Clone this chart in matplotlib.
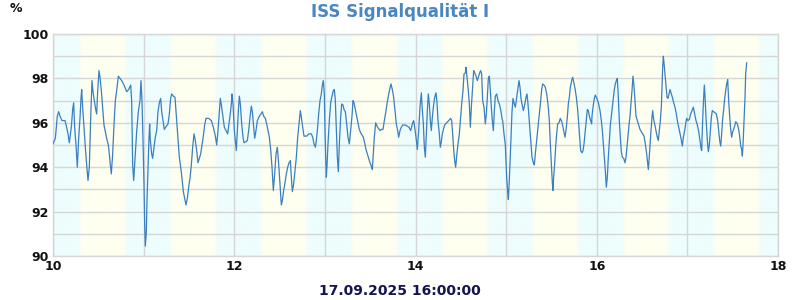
import numpy as np
import matplotlib
matplotlib.use("Agg")
import matplotlib.pyplot as plt
from matplotlib.colors import to_rgb

# ---- data: minutes after 10:00 and signal quality in % ----
min_10 = [0.0, 1.54, 2.87, 3.75, 4.63, 5.96, 7.94, 9.04, 9.93, 10.81, 12.13, 13.02, 13.68, 14.34, 15.22, 16.11,
          16.99, 17.87, 18.54, 18.98, 19.64, 20.52, 21.40, 22.29, 23.17, 24.05, 24.94, 25.82, 26.48, 27.36, 28.25,
          28.91, 29.57, 30.45, 31.12, 32.00, 32.88, 33.76, 34.65, 35.53, 36.63, 37.29, 37.96, 38.62, 39.50, 40.38,
          41.27, 42.15, 43.25, 44.36, 45.46, 47.01, 48.77, 50.10, 51.42, 52.08, 52.74, 53.41, 54.29, 55.39, 56.50, 57.60]
pct_10 = [95.05, 95.3, 96.3, 96.5, 96.3, 96.1, 96.1, 95.8, 95.5, 95.1, 95.8, 96.6, 96.9, 95.8, 95.0, 94.0,
          95.3, 96.2, 97.1, 97.5, 96.7, 95.8, 94.9, 94.1, 93.4, 94.0, 96.2, 97.9, 97.4, 97.0, 96.6,
          96.4, 97.4, 98.35, 98.05, 97.45, 96.7, 95.9, 95.6, 95.3, 95.0, 94.6, 94.1, 93.7, 94.6, 95.9,
          97.0, 97.45, 98.1, 98.0, 97.9, 97.7, 97.4, 97.5, 97.7, 97.0, 94.1, 93.4, 94.4, 95.6, 96.5, 97.0]

min_11 = [58.26, 58.92, 59.59, 60.25, 60.69, 61.13, 61.79, 62.23, 62.90, 63.56, 64.00, 64.44, 65.32, 65.99, 66.87,
          67.75, 68.64, 69.52, 70.40, 71.28, 71.95, 72.83, 73.71, 74.59, 76.14, 77.02, 77.90, 78.57, 79.67, 80.77,
          81.88, 82.76, 83.64, 84.53, 85.41, 86.29, 87.17, 88.06, 88.94, 89.82, 90.71, 91.59, 92.47, 93.35, 94.24,
          95.12, 96.00, 96.88, 97.77, 98.65, 99.53, 100.42, 101.30, 103.06, 104.83, 106.15, 107.48, 108.36, 109.24,
          110.13, 110.79, 111.67, 112.55, 113.44, 114.54, 115.64, 116.75, 117.63, 118.29]
pct_11 = [97.9, 97.0, 95.2, 93.2, 91.4, 90.45, 91.1, 92.5, 94.0, 95.35, 95.95, 95.2, 94.6, 94.4, 94.9,
          95.35, 95.65, 96.5, 96.9, 97.1, 96.5, 96.1, 95.7, 95.8, 95.95, 96.4, 97.1, 97.3, 97.2, 97.15,
          96.1, 95.2, 94.45, 94.0, 93.5, 92.9, 92.6, 92.3, 92.6, 93.1, 93.5, 94.1, 94.9, 95.5, 95.2,
          94.75, 94.2, 94.4, 94.6, 95.0, 95.4, 95.9, 96.2, 96.2, 96.1, 95.8, 95.4, 95.0, 95.65,
          96.5, 97.1, 96.7, 96.25, 95.8, 95.65, 95.5, 96.1, 96.55, 97.0]

min_12 = [118.51, 119.18, 120.06, 120.72, 121.38, 122.05, 122.71, 123.37, 124.03, 124.91, 125.80, 126.46, 127.56,
          128.67, 129.55, 130.43, 131.31, 131.98, 132.86, 133.52, 134.40, 135.29, 136.61, 137.71, 138.60, 139.48,
          140.58, 141.47, 142.35, 143.23, 144.12, 145.00, 145.88, 146.76, 147.65, 148.53, 149.41, 150.30, 151.18,
          151.84, 152.72, 153.61, 154.49, 155.37, 156.25, 157.14, 157.80, 158.46, 159.34, 160.23, 161.11, 161.99,
          162.87, 163.76, 164.42, 165.30, 166.19, 167.95, 169.28, 171.04, 171.92, 172.81, 173.69, 174.35, 175.01,
          175.90, 176.78]
pct_12 = [97.3, 96.85, 95.65, 95.2, 94.75, 95.65, 96.55, 97.2, 96.85, 95.95, 95.35, 95.1, 95.15,
          95.2, 95.65, 96.25, 96.75, 96.5, 95.8, 95.3, 95.65, 96.1, 96.3, 96.4, 96.5, 96.3,
          96.2, 95.95, 95.65, 95.35, 94.8, 94.0, 92.95, 93.7, 94.6, 94.9, 94.15, 93.25, 92.3,
          92.5, 92.95, 93.3, 93.7, 94.0, 94.2, 94.3, 93.55, 92.9, 93.25, 93.85, 94.45, 95.35,
          95.95, 96.55, 96.25, 95.8, 95.4, 95.4, 95.5, 95.5, 95.35, 95.05, 94.9, 95.2, 95.65,
          96.4, 97.0]

min_13 = [177.65, 178.31, 178.98, 179.64, 180.08, 180.52, 180.96, 181.40, 182.07, 182.95, 183.83, 184.72, 185.60,
          186.26, 186.92, 187.58, 188.25, 188.91, 189.57, 190.45, 191.12, 192.00, 192.66, 193.54, 194.43, 195.31,
          196.19, 197.07, 197.96, 198.62, 199.28, 200.16, 201.05, 201.93, 202.81, 203.70, 204.58, 205.46, 206.34,
          207.23, 208.11, 208.99, 209.88, 210.76, 211.42, 212.08, 212.74, 213.63, 214.51, 215.39, 216.50, 217.38,
          218.48, 219.37, 220.25, 221.13, 222.01, 222.90, 223.78, 224.66, 225.54, 226.43, 227.31, 228.19, 228.86,
          229.74, 230.62, 231.50, 233.05, 234.59, 235.70, 236.80]
pct_13 = [97.3, 97.7, 97.9, 97.3, 95.65, 94.45, 93.55, 94.05, 95.05, 96.1, 96.9, 97.2, 97.45,
          97.5, 97.0, 95.8, 94.45, 93.8, 95.05, 96.25, 96.85, 96.8, 96.6, 96.5, 95.95, 95.35,
          95.05, 95.65, 96.3, 97.0, 96.9, 96.6, 96.3, 96.0, 95.7, 95.55, 95.45, 95.35, 95.1,
          94.8, 94.6, 94.4, 94.2, 94.05, 93.9, 94.6, 95.35, 96.0, 95.85, 95.75, 95.65, 95.7,
          95.7, 96.1, 96.45, 96.85, 97.2, 97.5, 97.75, 97.5, 97.15, 96.55, 95.95, 95.65, 95.35,
          95.65, 95.8, 95.9, 95.9, 95.85, 95.8, 95.65]

min_14 = [238.13, 238.79, 239.45, 240.33, 241.22, 242.10, 242.98, 243.86, 244.53, 245.19, 245.85, 246.51, 247.17,
          247.84, 248.50, 249.16, 249.82, 250.48, 251.15, 251.81, 252.69, 253.57, 254.24, 254.90, 255.78, 256.44,
          257.11, 257.77, 258.43, 259.31, 260.64, 261.96, 263.29, 263.95, 264.61, 265.27, 265.93, 266.60, 267.26,
          268.14, 269.02, 269.69, 270.57, 271.45, 272.11, 273.00, 273.44, 274.10, 274.98, 275.64, 276.31, 276.97,
          277.85, 278.51, 279.18, 280.06, 280.94, 281.82, 282.49, 283.15, 283.81, 284.47, 285.36, 286.24, 286.90,
          287.56, 288.22, 288.89, 289.55, 290.21, 290.87, 291.54, 292.20, 292.86, 293.74, 294.62, 295.51, 296.39,
          297.27]
pct_14 = [96.0, 96.1, 95.8, 95.35, 94.8, 95.65, 96.7, 97.35, 96.55, 95.95, 94.9, 94.45, 95.5,
          96.55, 97.3, 96.85, 96.1, 95.65, 96.25, 96.7, 97.15, 97.35, 96.9, 96.1, 95.5, 94.9,
          95.15, 95.5, 95.7, 95.9, 96.0, 96.1, 96.2, 96.1, 95.5, 94.8, 94.3, 94.0, 94.5,
          95.05, 95.5, 96.1, 96.85, 97.45, 98.2, 98.25, 98.5, 98.05, 97.45, 96.85, 95.8, 96.7,
          97.6, 98.35, 98.25, 98.1, 97.9, 98.1, 98.25, 98.35, 98.2, 97.0, 96.7, 95.95, 96.4,
          97.15, 98.0, 98.1, 97.45, 96.7, 96.1, 95.65, 96.55, 97.2, 97.3, 97.0, 96.85, 96.6,
          96.2]

min_15 = [297.71, 298.59, 299.47, 299.91, 300.35, 301.02, 301.46, 301.90, 302.56, 303.22, 303.89, 304.55, 305.21,
          306.09, 306.98, 307.64, 308.52, 309.18, 309.84, 310.51, 311.39, 312.27, 313.15, 313.82, 314.48, 315.14,
          315.80, 316.47, 317.13, 318.01, 318.67, 319.33, 320.22, 321.10, 321.98, 322.87, 323.53, 324.19, 325.07,
          325.96, 326.84, 327.72, 328.60, 329.27, 329.93, 330.59, 331.03, 331.47, 332.13, 332.80, 333.46, 334.12,
          335.00, 335.89, 336.55, 337.21, 338.09, 338.98, 339.64, 340.52, 341.18, 341.85, 342.51, 343.39, 344.05,
          344.71, 345.60, 346.48, 347.36, 348.03, 348.69, 349.35, 350.23, 350.90, 351.56, 352.44, 353.10, 353.76,
          354.43, 355.09, 355.97, 356.63]
pct_15 = [96.1, 95.5, 95.0, 94.3, 93.55, 92.9, 92.55, 93.1, 94.15, 95.35, 96.5, 97.1, 96.9,
          96.7, 97.15, 97.45, 97.9, 97.6, 97.1, 96.85, 96.55, 96.8, 97.15, 97.3, 96.85, 96.25,
          95.65, 95.05, 94.45, 94.2, 94.1, 94.6, 95.2, 95.8, 96.4, 97.0, 97.5, 97.75, 97.7,
          97.6, 97.3, 96.85, 96.1, 95.05, 94.15, 93.3, 92.95, 93.55, 94.15, 94.9, 95.5, 95.95,
          96.0, 96.2, 96.1, 95.95, 95.65, 95.35, 95.65, 96.25, 96.85, 97.15, 97.6, 97.9, 98.05,
          97.85, 97.55, 97.15, 96.6, 95.95, 95.35, 94.75, 94.65, 94.75, 95.05, 95.65, 96.1, 96.6,
          96.55, 96.3, 96.1, 95.95]

min_16 = [356.85, 357.52, 358.40, 359.06, 359.72, 360.61, 361.27, 362.15, 363.03, 363.70, 364.36, 365.02, 365.68,
          366.34, 367.01, 367.67, 368.33, 368.99, 369.65, 370.32, 370.98, 371.64, 372.30, 372.97, 373.63, 374.29,
          374.95, 375.61, 376.28, 376.94, 377.82, 378.70, 379.37, 380.03, 380.69, 381.35, 382.01, 382.68, 383.34,
          384.00, 384.66, 385.32, 385.99, 386.87, 387.75, 388.64, 389.52, 390.40, 391.28, 392.17, 393.05, 393.71,
          394.15, 394.59, 395.26, 395.92, 396.58, 397.02, 397.46, 398.13, 398.79, 399.45, 400.11, 400.77, 401.44,
          402.10, 402.76, 403.20, 403.64, 404.08, 404.53, 405.19, 405.85, 406.51, 407.17, 407.84, 408.50, 409.16,
          410.04, 410.93, 411.81, 412.69, 413.35, 414.24, 415.12, 415.78]
pct_16 = [96.3, 96.7, 97.1, 97.25, 97.15, 97.0, 96.85, 96.55, 96.1, 95.65, 95.05, 94.45, 93.85,
          93.1, 93.55, 94.45, 95.2, 95.9, 96.3, 96.7, 97.15, 97.5, 97.75, 97.9, 98.0, 97.15,
          96.1, 95.35, 94.7, 94.45, 94.4, 94.2, 94.45, 94.9, 95.4, 95.9, 96.3, 96.85, 97.45,
          98.1, 97.65, 97.0, 96.3, 96.1, 95.9, 95.7, 95.6, 95.5, 95.4, 95.05, 94.6, 94.15,
          93.9, 94.3, 95.0, 95.65, 96.25, 96.55, 96.25, 96.0, 95.8, 95.55, 95.35, 95.2, 95.65,
          96.1, 96.7, 97.6, 98.5, 99.0, 98.7, 98.2, 97.75, 97.15, 97.1, 97.3, 97.5, 97.35,
          97.15, 96.9, 96.7, 96.4, 96.1, 95.8, 95.5, 95.3]

min_17 = [416.66, 417.33, 418.21, 418.87, 419.53, 420.42, 421.30, 422.18, 423.07, 423.95, 424.83, 425.71, 426.60,
          427.48, 428.36, 429.02, 429.47, 430.13, 430.79, 431.23, 431.67, 432.33, 433.22, 433.88, 434.54, 435.20,
          435.87, 436.53, 437.41, 438.29, 439.18, 440.06, 440.72, 441.38, 442.05, 442.71, 443.37, 444.03, 444.69,
          445.36, 446.02, 446.68, 447.34, 448.00, 448.67, 449.33, 449.99, 450.65, 451.31, 451.98, 452.64, 453.30,
          453.96, 454.63, 455.29, 455.95, 456.39, 456.83, 457.50, 458.16, 458.60, 459.26]
pct_17 = [94.95, 95.35, 95.65, 95.95, 96.2, 96.1, 96.15, 96.4, 96.55, 96.7, 96.4, 96.1, 95.9,
          95.6, 95.2, 94.85, 94.75, 96.15, 97.15, 97.7, 97.2, 96.25, 95.2, 94.7, 95.0, 95.65,
          96.25, 96.55, 96.5, 96.45, 96.4, 96.1, 95.65, 95.2, 94.95, 95.5, 96.2, 96.6, 97.1,
          97.45, 97.75, 97.95, 97.0, 96.3, 95.7, 95.35, 95.6, 95.7, 95.85, 96.05, 96.0, 95.9,
          95.7, 95.4, 94.95, 94.8, 94.5, 95.0, 96.1, 97.15, 98.2, 98.7]

x_ticks = [10, 12, 14, 16, 18]
y_ticks = [90, 92, 94, 96, 98, 100]
title = "ISS Signalqualität I"
unit_label = "%"
footer = "17.09.2025 16:00:00"
band_start_h = 10.3   # first day/night band edge (hours)
band_len_h = 0.5

minutes = np.concatenate([min_10, min_11, min_12, min_13, min_14, min_15, min_16, min_17])
quality = np.concatenate([pct_10, pct_11, pct_12, pct_13, pct_14, pct_15, pct_16, pct_17])
assert len(minutes) == len(quality), (len(minutes), len(quality))
hours = 10 + minutes / 60.0

# ---- figure ----
fig = plt.figure(figsize=(8, 3), dpi=100)
ax = fig.add_axes([53 / 800, 1 - 256 / 300, (778 - 53) / 800, (256 - 34) / 300])

cyan = np.array(to_rgb("#eefdfd"))
yellow = np.array(to_rgb("#fefff0"))
# background bands with soft edges
xs = np.linspace(10, 18, 1601)
k = np.floor((xs - band_start_h) / band_len_h)
is_yellow = ((k % 2) == 0) & (xs >= band_start_h)
w = is_yellow.astype(float)
kern = np.ones(9) / 9
w = np.convolve(np.pad(w, 4, mode="edge"), kern, mode="valid")
img = cyan[None, :] * (1 - w[:, None]) + yellow[None, :] * w[:, None]
ax.imshow(img[None, :, :], extent=[10, 18, 90, 100], aspect="auto", zorder=0, interpolation="bilinear")

ax.set_xlim(10, 18)
ax.set_ylim(90, 100)
ax.set_xticks(np.arange(10, 18.01, 1), minor=False)
ax.set_yticks(np.arange(90, 100.01, 1))
ax.set_xticklabels([str(t) if t in x_ticks else "" for t in range(10, 19)])
ax.set_yticklabels([str(t) if t in y_ticks else "" for t in range(90, 101)])
ax.grid(True, color="#d6d6d6", linewidth=1.0, zorder=1)
ax.tick_params(length=0, pad=3)
for lab in ax.get_xticklabels() + ax.get_yticklabels():
    lab.set_fontweight("bold")
    lab.set_fontsize(9)
    lab.set_color("#111111")
for s in ax.spines.values():
    s.set_color("#d6d6d6")
    s.set_linewidth(1.0)

ax.plot(hours, quality, color="#3a7fbf", linewidth=0.9, zorder=3)

fig.text(0.5, 1 - 12 / 300, title, ha="center", va="center", fontsize=12, fontweight="bold", color="#4a86c0")
fig.text(10 / 800, 1 - 9 / 300, unit_label, ha="left", va="center", fontsize=9, fontweight="bold", color="#111111")
fig.text(0.5, 1 - 291 / 300, footer, ha="center", va="center", fontsize=10, fontweight="bold", color="#141450")

fig.savefig("out.png", dpi=100)
